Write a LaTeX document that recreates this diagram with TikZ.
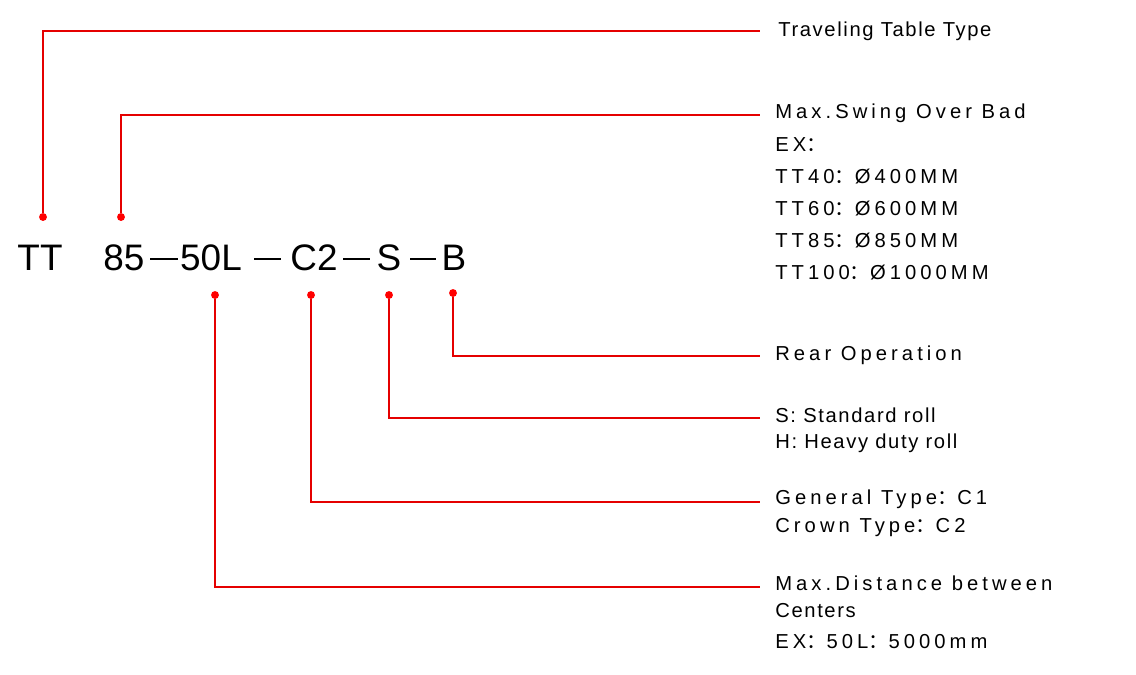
\documentclass[tikz,border=0pt]{standalone}
\usepackage{fontspec}
\setmainfont{Liberation Sans}
\newfontfamily\cjk{Noto Sans CJK SC}
\newcommand{\fc}{{\cjk ：}}
\begin{document}
\begin{tikzpicture}[x=0.02cm,y=-0.02cm,
  lead/.style={draw=red!90!black,line width=0.7pt},
  dot/.style={circle,fill=red,inner sep=0pt,minimum size=4.5pt},
  lbl/.style={anchor=west,font=\fontsize{11.5}{13}\selectfont,inner sep=0pt},
  wide/.style={lbl,font=\fontsize{11.5}{13}\selectfont\addfontfeatures{LetterSpace=20}},
  mid/.style={lbl,font=\fontsize{11.5}{13}\selectfont\addfontfeatures{LetterSpace=8}},
  big/.style={font=\fontsize{21}{24}\selectfont,inner sep=0pt},
  sep/.style={draw=black,line width=0.8pt}]
\useasboundingbox (0,0) rectangle (1136,674);
\node[big] (tt) at (40,258) {TT};
\node[big] (c1) at (124,258) {85};
\node[big] (c2) at (211,258) {50L};
\node[big] (c3) at (314,258) {C2};
\node[big] (c4) at (389,258) {S};
\node[big] (c5) at (454,258) {B};
\draw[sep] (150,259) -- (178,259);
\draw[sep] (254,259) -- (281,259);
\draw[sep] (343,259) -- (370,259);
\draw[sep] (410,259) -- (436,259);
\node[dot] (d1) at (43,217) {};
\node[dot] (d2) at (121,217) {};
\node[dot] (d3) at (215,295) {};
\node[dot] (d4) at (311,295) {};
\node[dot] (d5) at (389,295) {};
\node[dot] (d6) at (453,293) {};
\coordinate (e1) at (760,31);
\coordinate (e2) at (760,115);
\coordinate (e6) at (760,356);
\coordinate (e5) at (760,418);
\coordinate (e4) at (760,502);
\coordinate (e3) at (760,587);
\draw[lead] (d1) |- (e1);
\draw[lead] (d2) |- (e2);
\draw[lead] (d6) |- (e6);
\draw[lead] (d5) |- (e5);
\draw[lead] (d4) |- (e4);
\draw[lead] (d3) |- (e3);
\node[mid] (l1) at (778,31) {Traveling Table Type};
\node[wide] (l2a) at (775,113) {Max.Swing Over Bad};
\node[wide] (l2b) at (775,145) {EX\fc};
\node[wide] (l2c) at (775,177) {TT40\fc Ø400MM};
\node[wide] (l2d) at (775,209) {TT60\fc Ø600MM};
\node[wide] (l2e) at (775,241) {TT85\fc Ø850MM};
\node[wide] (l2f) at (775,273) {TT100\fc Ø1000MM};
\node[wide] (l6) at (775,355) {Rear Operation};
\node[mid] (l5a) at (775,415) {S: Standard roll};
\node[mid] (l5b) at (775,443) {H: Heavy duty roll};
\node[wide] (l4a) at (775,499) {General Type\fc C1};
\node[wide] (l4b) at (775,528) {Crown Type\fc C2};
\node[wide] (l3a) at (775,583) {Max.Distance between};
\node[mid] (l3b) at (775,611) {Centers};
\node[wide] (l3c) at (775,642) {EX\fc 50L\fc 5000mm};
\end{tikzpicture}
\end{document}
